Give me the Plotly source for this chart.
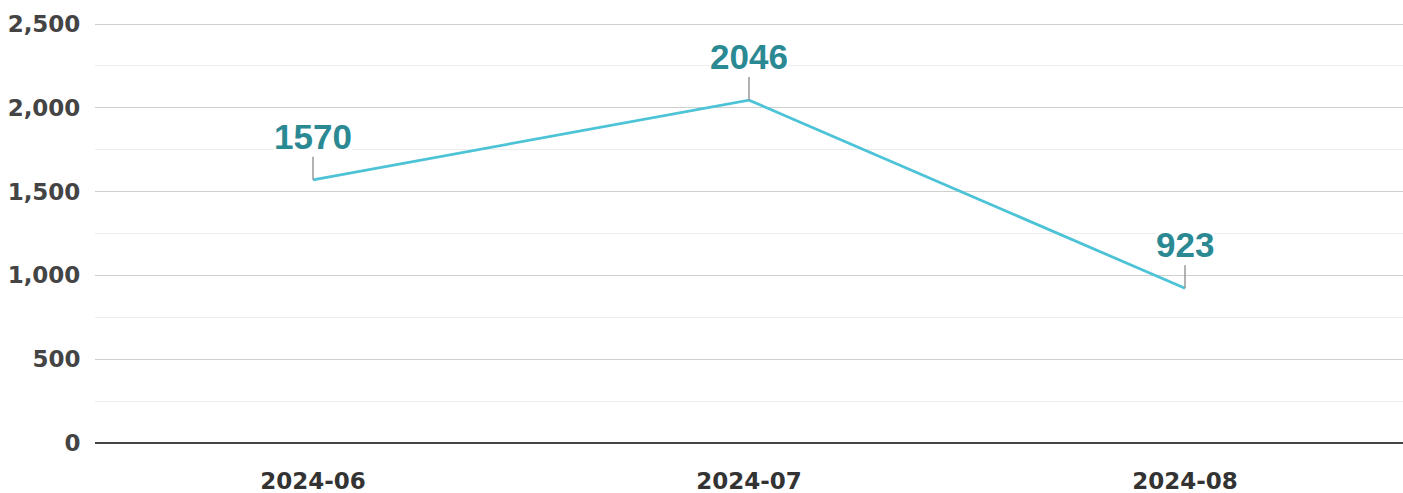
import plotly.graph_objects as go

months = ["2024-06", "2024-07", "2024-08"]
values = [1570, 2046, 923]
y_ticks = [0, 500, 1000, 1500, 2000, 2500]

fig = go.Figure()
fig.add_trace(go.Scatter(
    x=months, y=values, mode="lines",
    line=dict(color="#4cc3d6", width=2.8),
    hoverinfo="skip",
))

for m, v in zip(months, values):
    fig.add_annotation(
        x=m, y=v, text=str(v),
        showarrow=True, arrowhead=0, arrowwidth=1.5, arrowcolor="#999999",
        ax=0, ay=-23, yanchor="bottom", xanchor="center",
        bgcolor="white", borderpad=0,
        font=dict(family="Liberation Sans", size=35, color="#2b8993", weight="bold"),
    )

fig.update_layout(
    width=1403, height=493,
    margin=dict(l=95, r=0, t=23, b=50, autoexpand=False),
    paper_bgcolor="white", plot_bgcolor="white",
    showlegend=False,
    xaxis=dict(
        type="category", range=[-0.5, 2.5], automargin=False,
        showgrid=False, showline=False, zeroline=False,
        ticks="outside", ticklen=17, tickcolor="rgba(0,0,0,0)",
        tickfont=dict(family="DejaVu Sans", size=23, color="#333333", weight="bold"),
    ),
    yaxis=dict(
        range=[0, 2506], tickvals=y_ticks, automargin=False,
        tickformat=",d",
        showgrid=True, gridcolor="#cfcfcf", gridwidth=1,
        minor=dict(dtick=250, showgrid=True, gridcolor="#ececec", gridwidth=1),
        zeroline=True, zerolinecolor="#444444", zerolinewidth=2,
        showline=False,
        ticks="outside", ticklen=9, tickcolor="rgba(0,0,0,0)",
        tickfont=dict(family="DejaVu Sans", size=23, color="#444444", weight="bold"),
    ),
)

fig.write_html(
    "out.html",
    config={"displayModeBar": False},
    post_script="document.body.style.margin='0';document.body.style.overflow='hidden';",
)
